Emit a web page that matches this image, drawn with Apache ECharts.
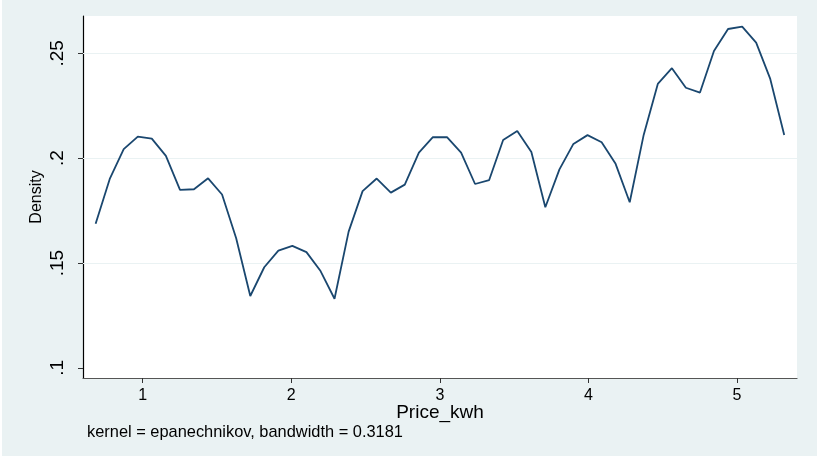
<!DOCTYPE html>
<html>
<head>
<meta charset="utf-8">
<script src="https://cdn.jsdelivr.net/npm/echarts@6/dist/echarts.min.js"></script>
<style>
html,body{margin:0;padding:0;background:#fff;}
#chart{width:817px;height:457px;}
</style>
</head>
<body>
<div id="chart"></div>
<script>
// Price_kwh grid points (50 points of the kernel density estimate)
var priceKwh = [0.683,0.778,0.872,0.967,1.061,1.156,1.251,1.345,1.440,1.534,
  1.629,1.724,1.818,1.913,2.007,2.102,2.197,2.291,2.386,2.480,
  2.575,2.670,2.764,2.859,2.953,3.048,3.143,3.237,3.332,3.426,
  3.521,3.616,3.710,3.805,3.899,3.994,4.089,4.183,4.278,4.372,
  4.467,4.562,4.656,4.751,4.845,4.940,5.035,5.129,5.224,5.318];
// Density values
var density = [0.1687,0.1901,0.2043,0.2103,0.2093,0.2011,0.1849,0.1852,0.1904,0.1827,
  0.1618,0.1343,0.1480,0.1559,0.1582,0.1552,0.1462,0.1330,0.1650,0.1843,
  0.1903,0.1836,0.1874,0.2027,0.2100,0.2100,0.2027,0.1877,0.1896,0.2087,
  0.2130,0.2030,0.1766,0.1947,0.2068,0.2110,0.2076,0.1973,0.1790,0.2111,
  0.2354,0.2429,0.2336,0.2313,0.2511,0.2616,0.2627,0.2551,0.2378,0.2111];
var xTicks = [1,2,3,4,5];
var yTicks = [0.1,0.15,0.2,0.25];
var yTickLabels = ['.1','.15','.2','.25'];
var yGridLines = [0.15,0.2,0.25];
var xTitle = 'Price_kwh';
var yTitle = 'Density';
var note = 'kernel = epanechnikov, bandwidth = 0.3181';

var font = '"Liberation Sans", Arial, Helvetica, sans-serif';
var chart = echarts.init(document.getElementById('chart'), null, {renderer:'canvas'});
var pts = priceKwh.map(function(x,i){ return [x, density[i]]; });

chart.setOption({
  animation: false,
  backgroundColor: '#ffffff',
  graphic: [
    {type:'rect', z:-10, silent:true, shape:{x:2,y:0,width:815,height:456}, style:{fill:'#eaf2f3'}},
    {type:'text', left:87, top:424, style:{text:note, font:'16.4px ' + font, fill:'#000'}}
  ],
  grid: {left:83, right:20, top:16, bottom:79, show:true, backgroundColor:'#ffffff', borderWidth:0},
  xAxis: {
    type:'value', min:0.598, max:5.404,
    name:xTitle, nameLocation:'middle', nameGap:25, nameMoveOverlap:false,
    nameTextStyle:{fontFamily:font, fontSize:19, color:'#000'},
    axisLine:{show:true, onZero:false, lineStyle:{color:'#555', width:1.2}},
    axisTick:{show:true, length:5, customValues:xTicks, lineStyle:{color:'#333'}},
    axisLabel:{customValues:xTicks, margin:10, fontFamily:font, fontSize:16, color:'#000'},
    splitLine:{show:false}
  },
  yAxis: {
    type:'value', min:0.0952, max:0.2678,
    name:yTitle, nameLocation:'middle', nameGap:38, nameRotate:90, nameMoveOverlap:false,
    nameTextStyle:{fontFamily:font, fontSize:16, color:'#000'},
    axisLine:{show:true, onZero:false, lineStyle:{color:'#000', width:1.2}},
    axisTick:{show:true, length:5, customValues:yTicks, lineStyle:{color:'#333'}},
    axisLabel:{customValues:yTicks, rotate:90, margin:16, fontFamily:font, fontSize:19, color:'#000',
      formatter:function(v){ var i = yTicks.findIndex(function(t){return Math.abs(t-v)<1e-9;}); return i>=0 ? yTickLabels[i] : ''; }},
    splitLine:{show:false}
  },
  series: [{
    type:'line', data:pts, showSymbol:false, symbol:'none',
    lineStyle:{color:'#1a476f', width:1.8},
    z:5,
    markLine:{silent:true, symbol:'none', label:{show:false}, z:1,
      lineStyle:{color:'#eaf2f3', width:1.2, type:'solid'},
      data: yGridLines.map(function(v){ return {yAxis:v}; })}
  }]
});
</script>
</body>
</html>
